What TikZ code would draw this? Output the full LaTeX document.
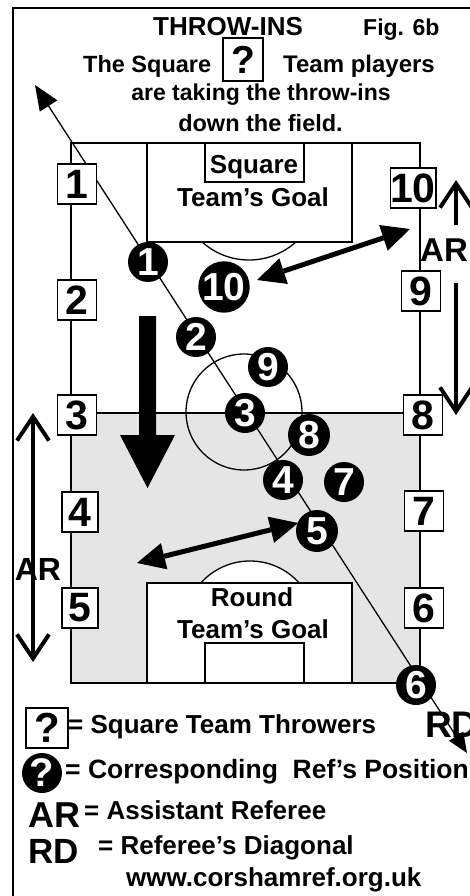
\documentclass[tikz,border=0pt]{standalone}
\usepackage{fontspec}
\setmainfont{Liberation Sans}
\usetikzlibrary{arrows.meta}
\newcommand\myfs[1]{\fontsize{#1pt}{#1pt}\selectfont\bfseries}
\begin{document}
\begin{tikzpicture}[x=1pt,y=-1pt,
  pline/.style={line width=1.3pt},
  tbox/.style={draw,fill=white,line width=1.4pt,minimum width=39pt,minimum height=40pt,inner sep=0pt,font=\myfs{41}},
  refc/.style={circle,fill=black,minimum size=40pt,inner sep=0pt,text=white,font=\myfs{39}},
  txt/.style={inner sep=0pt,font=\myfs{26}},
  dbl/.style={line width=5pt,{Triangle[length=28pt,width=27pt,line width=0pt]}-{Triangle[length=28pt,width=27pt,line width=0pt]}},
  barb/.style={line width=4pt,-{Straight Barb[length=24pt,width=32pt]}},
  dbarb/.style={line width=4pt,{Straight Barb[length=24pt,width=32pt]}-{Straight Barb[length=24pt,width=32pt]}},
]
\useasboundingbox (0,0) rectangle (470,896);
% outer frame
\draw[line width=1.5pt] (13,896) -- (13,8) -- (470,8);
% shaded half
\fill[gray!20] (71,413) rectangle (420,683);
% pitch
\draw[pline] (71,143) rectangle (420,683);
\draw[pline] (71,413) -- (420,413);
\draw[pline] (244,412) circle[radius=58pt];
% top penalty area
\begin{scope}
  \clip (71,242) rectangle (420,413);
  \draw[pline] (249,190) circle[radius=70pt];
\end{scope}
\draw[pline,fill=white] (147,143) rectangle (352,242);
\draw[pline] (205,143) rectangle (304,182);
% bottom penalty area
\begin{scope}
  \clip (71,413) rectangle (420,583);
  \draw[pline,fill=white] (250,627) circle[radius=66pt];
\end{scope}
\draw[pline,fill=white] (147,583) rectangle (352,683);
\draw[pline] (205,643) rectangle (304,683);
% goal texts
\node[txt,anchor=base] (sq) at (254,174) {Square};
\node[txt,anchor=base] (sqg) at (253,206) {Team’s Goal};
\node[txt,anchor=base] (rd) at (252,606) {Round};
\node[txt,anchor=base] (rdg) at (253,638) {Team’s Goal};
% referee's diagonal
\coordinate (dA) at (35,85);
\coordinate (dB) at (467,753);
\draw[line width=1.3pt,{Triangle[length=25pt,width=21pt,line width=0pt]}-{Triangle[length=20pt,width=17pt,line width=0pt]}] (dA) -- (dB);
% big down arrow
\fill (139,316) -- (156,316) -- (156,435) -- (175,435) -- (147.5,488) -- (120,435) -- (139,435) -- cycle;
% double arrows
\coordinate (uA) at (257,280);
\coordinate (uB) at (410,229);
\draw[dbl] (uA) -- (uB);
\coordinate (lA) at (137,563);
\coordinate (lB) at (298,523);
\draw[dbl] (lA) -- (lB);
% throw-in boxes
\node[tbox] (b1) at (77,184) {1};
\node[tbox] (b2) at (77,300) {2};
\node[tbox] (b3) at (77,415) {3};
\node[tbox,minimum width=36pt] (b4) at (80,512) {4};
\node[tbox,minimum width=36pt] (b5) at (80,608) {5};
\node[tbox] (b10) at (413,188) {10};
\node[tbox] (b9) at (421,291) {9};
\node[tbox] (b8) at (423,415) {8};
\node[tbox] (b7) at (424,511) {7};
\node[tbox] (b6) at (424,608) {6};
% referee positions
\node[refc] (r1) at (148,262) {1};
\node[refc,minimum size=50pt] (r10) at (224,287) {10};
\node[refc] (r2) at (196,337) {2};
\node[refc] (r9) at (268,367) {9};
\node[refc] (r3) at (245,413) {3};
\node[refc,minimum size=42pt] (r8) at (309,435) {8};
\node[refc] (r4) at (283,480) {4};
\node[refc] (r7) at (344,482) {7};
\node[refc,minimum size=42pt] (r5) at (317,531) {5};
\node[refc] (r6) at (416,685) {6};
% assistant referee arrows
\coordinate (aL1) at (33,413);
\coordinate (aL2) at (33,662);
\draw[dbarb] (aL2) -- (aL1);
\node[inner sep=0pt,font=\myfs{32}] (arL) at (38,569) {AR};
\node[inner sep=0pt,font=\myfs{33}] (arR) at (444,250) {AR};
\coordinate (aR0) at (456,225);
\coordinate (aR1) at (456,180);
\coordinate (aR2) at (456,283);
\coordinate (aR3) at (456,415);
\draw[barb] (aR0) -- (aR1);
\draw[barb] (aR2) -- (aR3);
\node[inner sep=0pt,font=\myfs{37},anchor=base west] (rdl) at (425,737) {RD};
% title
\node[inner sep=0pt,font=\myfs{26},anchor=base west] (ttl) at (153,36) {THROW-INS};
\node[inner sep=0pt,font=\myfs{23},anchor=base west] (fig) at (363,36) {Fig. 6b};
\node[inner sep=0pt,font=\myfs{23.5},anchor=base west] (l1a) at (83,73) {The Square};
\node[draw,line width=1.3pt,minimum width=40pt,minimum height=43pt,inner sep=0pt,font=\myfs{39}] (qb) at (243,59.5) {?};
\node[inner sep=0pt,font=\myfs{24},anchor=base west] (l1b) at (283,73) {Team players};
\node[inner sep=0pt,font=\myfs{23},anchor=base] (l2) at (261,101) {are taking the throw-ins};
\node[inner sep=0pt,font=\myfs{23.5},anchor=base] (l3) at (260.5,132) {down the field.};
% legend
\node[draw,line width=1.3pt,minimum width=42pt,minimum height=40pt,inner sep=0pt,font=\myfs{42}] (lq) at (47,728) {?};
\node[txt,anchor=base west] (lg1) at (68,733) {= Square Team Throwers};
\node[refc,font=\myfs{40}] (lc) at (42,773) {?};
\node[inner sep=0pt,font=\myfs{26.5},anchor=base west] (lg2) at (65,778) {= Corresponding\ \ Ref’s Position};
\node[inner sep=0pt,font=\myfs{36},anchor=base west] (lar) at (28,827) {AR};
\node[txt,anchor=base west] (lg3) at (84,819) {= Assistant Referee};
\node[inner sep=0pt,font=\myfs{35},anchor=base west] (lrd) at (28,863) {RD};
\node[txt,anchor=base west] (lg4) at (98,854) {= Referee’s Diagonal};
\node[txt,anchor=base west] (web) at (126,886) {www.corshamref.org.uk};
\end{tikzpicture}
\end{document}
